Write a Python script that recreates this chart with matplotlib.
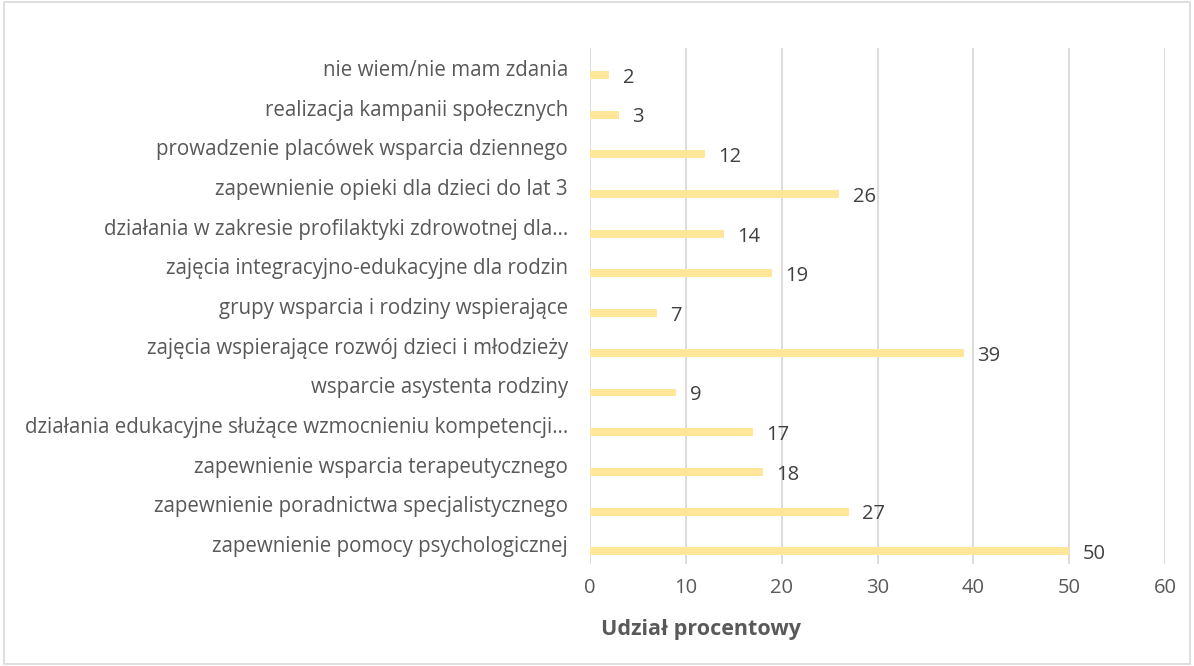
import matplotlib.pyplot as plt
import numpy as np
from matplotlib.patches import Rectangle

categories = [
    "nie wiem/nie mam zdania",
    "realizacja kampanii społecznych",
    "prowadzenie placówek wsparcia dziennego",
    "zapewnienie opieki dla dzieci do lat 3",
    "działania w zakresie profilaktyki zdrowotnej dla…",
    "zajęcia integracyjno-edukacyjne dla rodzin",
    "grupy wsparcia i rodziny wspierające",
    "zajęcia wspierające rozwój dzieci i młodzieży",
    "wsparcie asystenta rodziny",
    "działania edukacyjne służące wzmocnieniu kompetencji…",
    "zapewnienie wsparcia terapeutycznego",
    "zapewnienie poradnictwa specjalistycznego",
    "zapewnienie pomocy psychologicznej",
]
values = [2, 3, 12, 26, 14, 19, 7, 39, 9, 17, 18, 27, 50]
xticks = [0, 10, 20, 30, 40, 50, 60]

plt.rcParams['font.family'] = ['Open Sans', 'DejaVu Sans']
grey = '#595959'

fig = plt.figure(figsize=(11.94, 6.66), dpi=100)
ax = fig.add_axes([590/1194, 1-564/666, (1165-590)/1194, (564-48)/666])

pos = np.arange(len(categories))
ax.barh(pos + 0.18, values, height=0.2, color='#FFE699', zorder=3)
for p, v in zip(pos, values):
    ax.text(v + 1.4, p + 0.25, str(v), va='center', ha='left',
            fontsize=14.5, color='#404040')

ax.set_yticks(pos)
ax.set_yticklabels(categories, fontsize=14.8, color=grey)
ax.set_ylim(len(categories) - 0.5, -0.5)
ax.set_xlim(0, 60)
ax.set_xticks(xticks)
ax.set_xticklabels([str(t) for t in xticks], fontsize=14.5, color=grey)
ax.tick_params(axis='both', length=0)
ax.tick_params(axis='x', pad=10)
ax.tick_params(axis='y', pad=16)
ax.grid(axis='x', color='#D9D9D9', linewidth=1.3, zorder=0)
for s in ax.spines.values():
    s.set_visible(False)

fig.text(701/1194, 1-630/666, "Udział procentowy", ha='center', va='center',
         fontsize=15.5, fontweight='bold', color=grey)

fig.patches.append(Rectangle((0.003, 0.003), 0.994, 0.994, transform=fig.transFigure,
                             fill=False, edgecolor='#D9D9D9', linewidth=1.2))

plt.savefig("out.png", dpi=100)
